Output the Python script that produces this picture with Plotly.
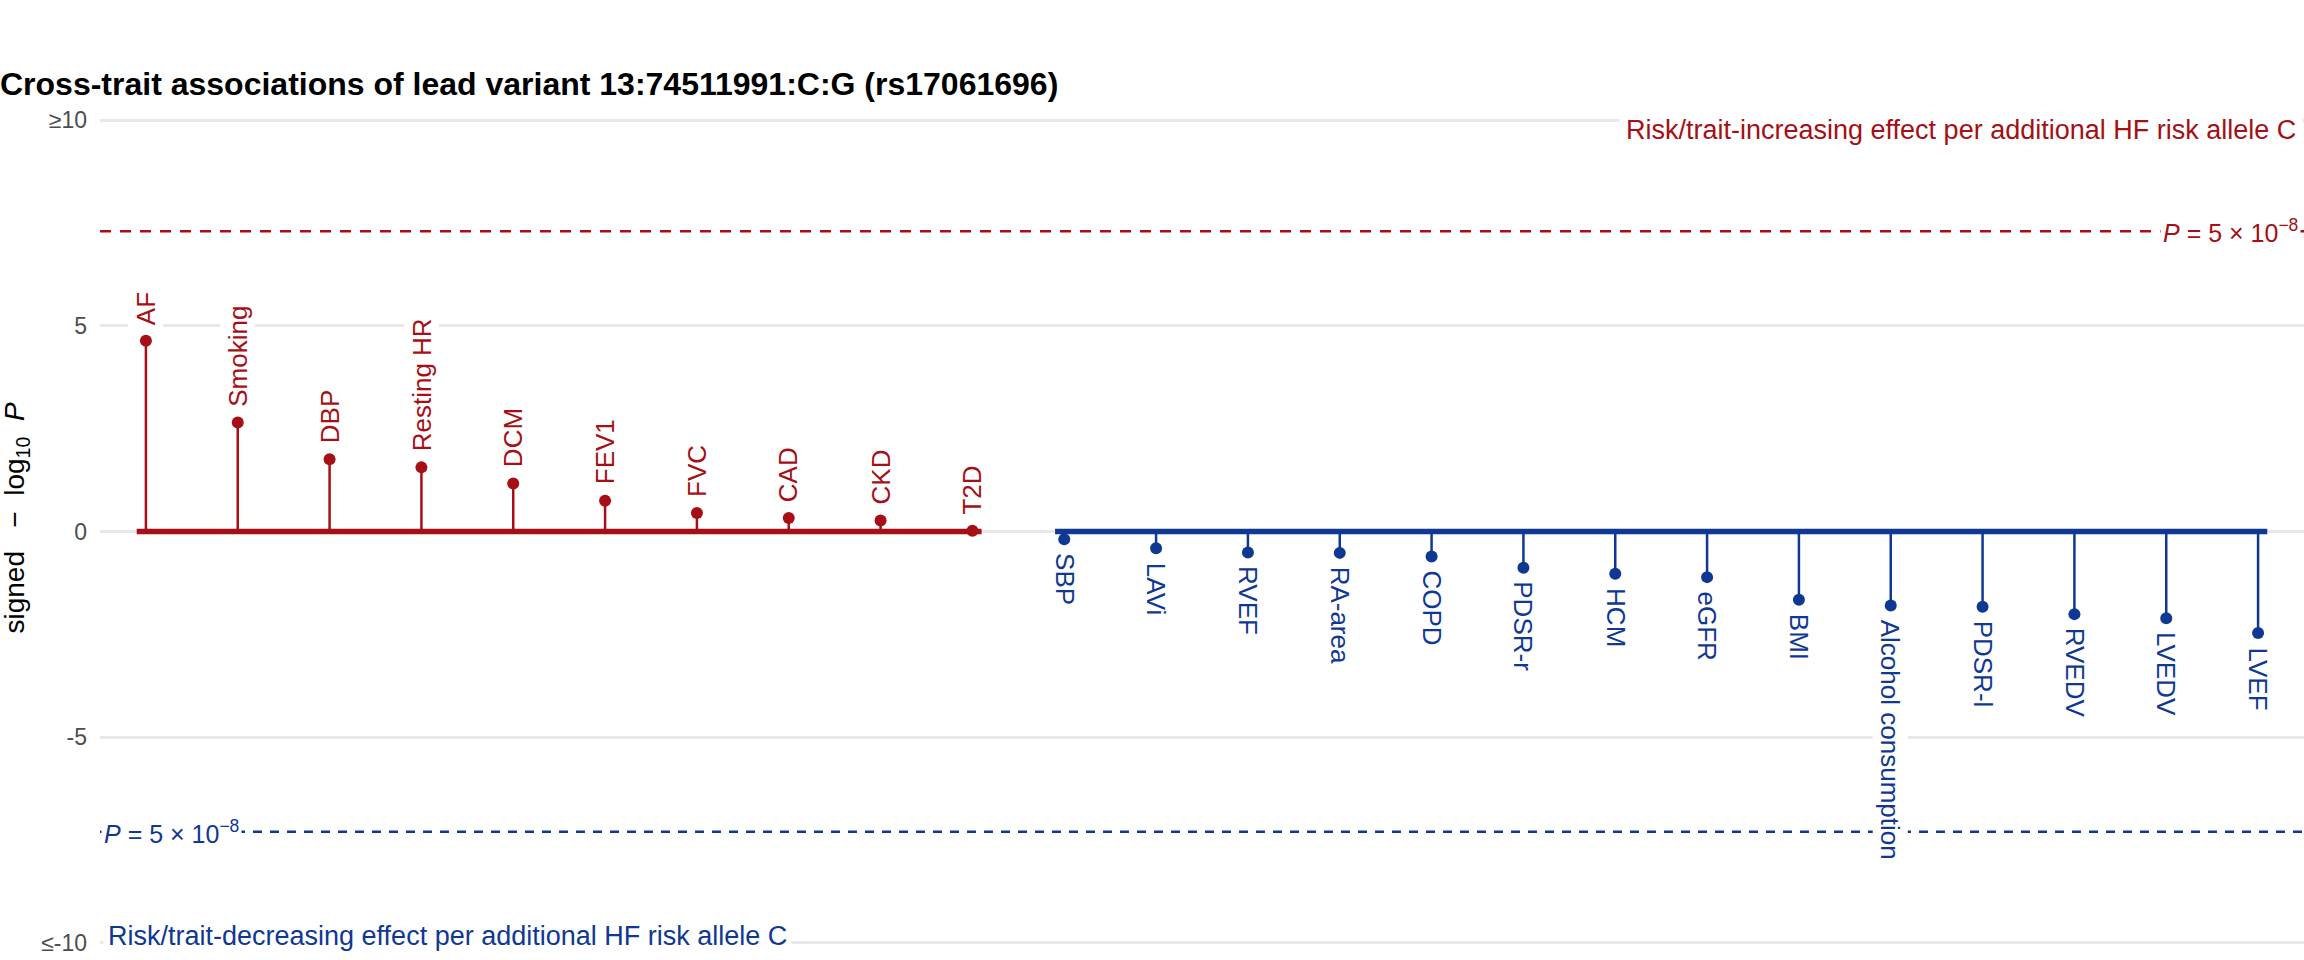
import plotly.graph_objects as go

traits = ["AF", "Smoking", "DBP", "Resting HR", "DCM", "FEV1", "FVC", "CAD", "CKD", "T2D",
          "SBP", "LAVi", "RVEF", "RA-area", "COPD", "PDSR-r", "HCM", "eGFR", "BMI",
          "Alcohol consumption", "PDSR-l", "RVEDV", "LVEDV", "LVEF"]
signed_logp = [4.64, 2.65, 1.76, 1.56, 1.17, 0.75, 0.45, 0.33, 0.27, 0.02,
               -0.19, -0.41, -0.51, -0.52, -0.61, -0.88, -1.03, -1.11, -1.66,
               -1.80, -1.83, -2.01, -2.11, -2.47]
y_tickvals = [-10, -5, 0, 5, 10]
y_ticktext = ["≤-10", "-5", "0", "5", "≥10"]
gw_threshold = 7.30103  # -log10(5e-8)

RED = "#a50f15"
BLUE = "#0f3893"
FONT = "Liberation Sans"

x_pos = list(range(len(traits)))
pos_idx = [i for i, v in enumerate(signed_logp) if v >= 0]
neg_idx = [i for i, v in enumerate(signed_logp) if v < 0]

fig = go.Figure()

def add_group(idx, color):
    sx, sy = [], []
    for i in idx:
        sx += [x_pos[i], x_pos[i], None]
        sy += [0, signed_logp[i], None]
    fig.add_trace(go.Scatter(x=sx, y=sy, mode="lines", line=dict(color=color, width=2.5),
                             hoverinfo="skip", showlegend=False))
    fig.add_trace(go.Scatter(x=[x_pos[idx[0]] - 0.1, x_pos[idx[-1]] + 0.1], y=[0, 0], mode="lines",
                             line=dict(color=color, width=5.5), hoverinfo="skip", showlegend=False))
    fig.add_trace(go.Scatter(x=[x_pos[i] for i in idx], y=[signed_logp[i] for i in idx],
                             mode="markers", marker=dict(color=color, size=12),
                             text=[traits[i] for i in idx], showlegend=False))

add_group(pos_idx, RED)
add_group(neg_idx, BLUE)

# significance lines
fig.add_shape(type="line", xref="paper", x0=0, x1=1, y0=gw_threshold, y1=gw_threshold,
              line=dict(color=RED, width=2.5, dash="11px,9px"), layer="above")
fig.add_shape(type="line", xref="paper", x0=0, x1=1, y0=-gw_threshold, y1=-gw_threshold,
              line=dict(color=BLUE, width=2.5, dash="9px,8px"), layer="above")

ann = []
for i in pos_idx:
    ann.append(dict(x=x_pos[i], y=signed_logp[i], text=traits[i], textangle=-90,
                    xanchor="center", yanchor="bottom", yshift=13, showarrow=False,
                    font=dict(family=FONT, size=26, color=RED), bgcolor="white", borderpad=2))
for i in neg_idx:
    ann.append(dict(x=x_pos[i], y=signed_logp[i], text=traits[i], textangle=90,
                    xanchor="center", yanchor="top", yshift=-11, showarrow=False,
                    font=dict(family=FONT, size=26, color=BLUE), bgcolor="white", borderpad=2))

ann.append(dict(xref="paper", x=0.9995, y=9.77, xanchor="right", yanchor="middle",
                text="Risk/trait-increasing effect per additional HF risk allele C",
                showarrow=False, font=dict(family=FONT, size=27, color=RED),
                bgcolor="white", borderpad=6))
ann.append(dict(xref="paper", x=0.0015, y=-9.85, xanchor="left", yanchor="middle",
                text="Risk/trait-decreasing effect per additional HF risk allele C",
                showarrow=False, font=dict(family=FONT, size=27, color=BLUE),
                bgcolor="white", borderpad=4))
ann.append(dict(xref="paper", x=0.9985, y=gw_threshold, xanchor="right", yanchor="middle",
                text="<i>P</i> = 5 × 10<sup>−8</sup>", showarrow=False,
                font=dict(family=FONT, size=25, color=RED), bgcolor="white", borderpad=2))
ann.append(dict(xref="paper", x=0.0005, y=-gw_threshold, xanchor="left", yanchor="middle",
                text="<i>P</i> = 5 × 10<sup>−8</sup>", showarrow=False,
                font=dict(family=FONT, size=25, color=BLUE), bgcolor="white", borderpad=2))
ann.append(dict(xref="paper", yref="paper", x=-0.0378, y=0.378, xanchor="center", yanchor="bottom",
                text="signed&nbsp;&nbsp;&nbsp;−&nbsp;&nbsp;log<sub>10</sub>&nbsp;&nbsp;<i>P</i>",
                textangle=-90, showarrow=False,
                font=dict(family=FONT, size=28, color="black")))

fig.update_layout(
    width=2304, height=960,
    margin=dict(l=100, r=0, t=106, b=3),
    paper_bgcolor="white", plot_bgcolor="white",
    title=dict(text="<b>Cross-trait associations of lead variant 13:74511991:C:G (rs17061696)</b>",
               xref="container", x=0.0, xanchor="left", y=1 - 84 / 960, yanchor="middle",
               font=dict(family=FONT, size=32, color="black")),
    annotations=ann,
    font=dict(family=FONT),
)
fig.update_xaxes(range=[-0.5, len(traits) - 0.5], showgrid=False, zeroline=False,
                 showticklabels=False, ticks="", showline=False)
fig.update_yaxes(range=[-10.35, 10.35], tickvals=y_tickvals, ticktext=y_ticktext,
                 showgrid=True, gridcolor="#e8e8e8", gridwidth=2.5, zeroline=False,
                 ticks="", showline=False, ticklabelstandoff=12,
                 tickfont=dict(family=FONT, size=23, color="#4d4d4d"))

fig.write_html("out.html",
               post_script=("document.body.style.margin='0px';document.body.style.overflow='hidden';"
                            "var m=document.querySelector('.modebar-container');"
                            "if(m){m.style.display='none';}"))
